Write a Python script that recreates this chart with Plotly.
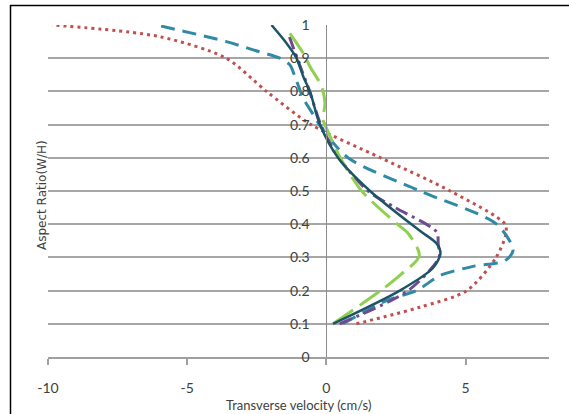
import plotly.graph_objects as go

# ---- data ----
red_y = [0.1, 0.15, 0.2, 0.3, 0.37, 0.4, 0.5, 0.6, 0.7, 0.8, 0.9, 0.965, 1.0]
red_x = [1.08, 3.36, 5.05, 6.1, 6.45, 6.42, 4.45, 1.95, -0.55, -2.15, -3.6, -6.0, -9.85]

teal_y = [0.1, 0.17, 0.2, 0.245, 0.273, 0.29, 0.322, 0.4, 0.5, 0.6, 0.69, 0.73, 0.78, 0.845, 0.88, 0.9, 0.925, 0.95, 1.0]
teal_x = [0.6, 2.16, 3.24, 4.08, 5.27, 6.42, 6.71, 6.12, 3.37, 0.78, -0.17, -0.47, -0.83, -1.13, -1.31, -1.67, -2.63, -3.59, -6.1]

solid_y = [0.1, 0.2, 0.268, 0.312, 0.342, 0.38, 0.5, 0.6, 0.7, 0.8, 0.845, 0.9, 0.945, 1.0]
solid_x = [0.24, 2.64, 3.83, 4.1, 3.96, 3.36, 1.57, 0.42, -0.23, -0.59, -0.83, -1.07, -1.43, -1.97]

purple_y = [0.1, 0.2, 0.3, 0.34, 0.377, 0.45, 0.5, 0.6, 0.7, 0.8, 0.9, 0.97]
purple_x = [0.48, 2.94, 4.05, 4.02, 3.96, 2.47, 1.5, 0.45, -0.2, -0.6, -1.05, -1.35]

green_y = [0.1, 0.2, 0.246, 0.305, 0.372, 0.4, 0.5, 0.6, 0.7, 0.715, 0.765, 0.815, 0.875, 0.915, 0.975]
green_x = [0.24, 1.95, 2.64, 3.34, 2.94, 2.55, 1.27, 0.5, -0.05, -0.12, -0.05, -0.17, -0.59, -0.83, -1.31]

x_ticks = [-10, -5, 0, 5]
y_ticks = [0, 0.1, 0.2, 0.3, 0.4, 0.5, 0.6, 0.7, 0.8, 0.9, 1]
y_tick_text = ["0", "0.1", "0.2", "0.3", "0.4", "0.5", "0.6", "0.7", "0.8", "0.9", "1"]

W, H = 569, 414
L, R, T, B = 48, 20, 25, 57
pw, ph = W - L - R, H - T - B

def px_to_paper_x(px):
    return (px - L) / pw

def py_to_paper_y(py):
    return (H - B - py) / ph

fig = go.Figure()

series = [
    (red_x, red_y, "#C0504D", 3, "3px,4px"),
    (teal_x, teal_y, "#2F8AA6", 3, "14px,8px"),
    (purple_x, purple_y, "#6F4A93", 3, "13px,5px,3px,5px"),
    (green_x, green_y, "#8FD14F", 3, "24px,8px"),
    (solid_x, solid_y, "#1E5468", 2.5, "solid"),
]
for xs, ys, col, w, dash in series:
    fig.add_trace(go.Scatter(
        x=xs, y=ys, mode="lines",
        line=dict(color=col, width=w, dash=dash, shape="spline", smoothing=0.8),
        showlegend=False, hoverinfo="skip",
    ))

tick_font = dict(family="Lato, Open Sans, sans-serif", size=14, color="#404040")

fig.update_layout(
    width=W, height=H,
    margin=dict(l=L, r=R, t=T, b=B, autoexpand=False),
    paper_bgcolor="white", plot_bgcolor="white",
    xaxis=dict(
        range=[-10, 8], tickvals=x_ticks, ticktext=[str(v) for v in x_ticks],
        showgrid=False, zeroline=False, automargin=False,
        showline=True, linecolor="#A0A0A0", linewidth=1.5,
        ticks="outside", ticklen=6, tickcolor="#A0A0A0", tickwidth=1.5,
        ticklabelstandoff=11,
        tickfont=tick_font,
        domain=[0, 1],
    ),
    yaxis=dict(
        range=[0, 1], tickvals=y_ticks, ticktext=y_tick_text,
        showgrid=True, gridcolor="#A6A6A6", gridwidth=1.5,
        zeroline=False, automargin=False,
        showline=True, linecolor="#8C8C8C", linewidth=1,
        anchor="free", position=10 / 18,
        ticks="outside", ticklen=14, tickcolor="rgba(0,0,0,0)",
        tickfont=tick_font,
    ),
    annotations=[
        dict(text="Aspect Ratio(W/H)", textangle=-90, showarrow=False,
             xref="paper", yref="paper",
             x=px_to_paper_x(42), y=py_to_paper_y(195),
             xanchor="center", yanchor="middle",
             font=dict(family="DejaVu Sans, sans-serif", size=12, color="#404040")),
        dict(text="Transverse velocity (cm/s)", showarrow=False,
             xref="paper", yref="paper",
             x=px_to_paper_x(298.5), y=py_to_paper_y(405),
             xanchor="center", yanchor="middle",
             font=dict(family="Lato, Open Sans, sans-serif", size=13, color="#404040")),
    ],
    shapes=[
        dict(type="line", xref="paper", yref="paper",
             x0=px_to_paper_x(10.5), x1=px_to_paper_x(10.5),
             y0=py_to_paper_y(5), y1=py_to_paper_y(420),
             line=dict(color="black", width=1.5)),
        dict(type="line", xref="paper", yref="paper",
             x0=px_to_paper_x(10), x1=px_to_paper_x(569),
             y0=py_to_paper_y(5.5), y1=py_to_paper_y(5.5),
             line=dict(color="black", width=1.5)),
    ],
)

fig.write_html(
    "out.html",
    config={"displayModeBar": False},
    post_script="document.body.style.margin='0px';document.body.style.overflow='hidden';",
)
